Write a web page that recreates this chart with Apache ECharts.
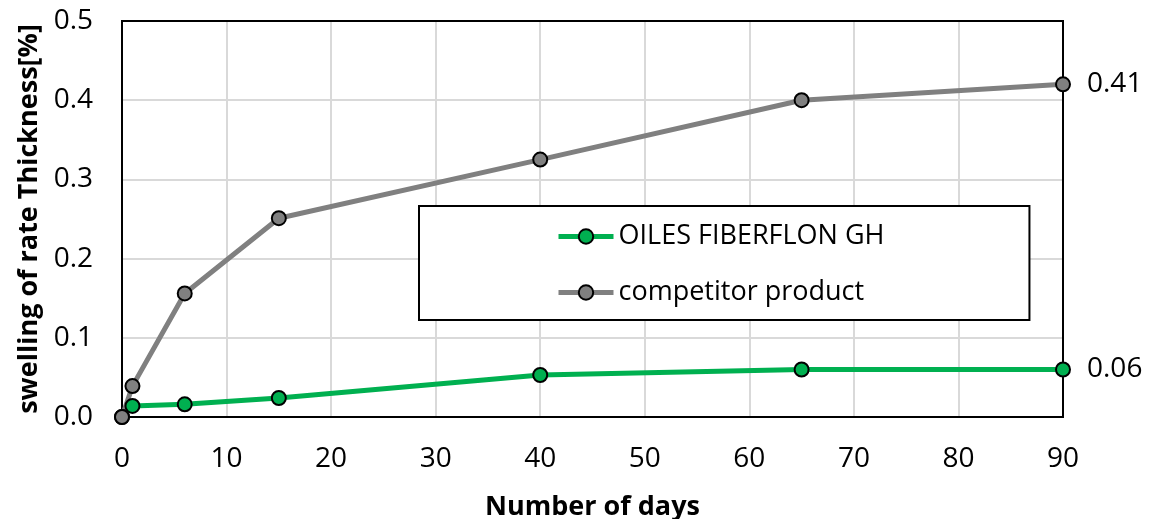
<!DOCTYPE html>
<html><head><meta charset="utf-8">
<script src="https://cdn.jsdelivr.net/npm/echarts@6/dist/echarts.min.js"></script>
<style>html,body{margin:0;padding:0;background:#fff}#c{width:1158px;height:519px}</style>
</head><body><div id="c"></div>
<script>
const days = [0, 1, 6, 15, 40, 65, 90];
const oilesValues = [0, 0.014, 0.016, 0.024, 0.053, 0.060, 0.060];
const competitorValues = [0, 0.039, 0.156, 0.251, 0.325, 0.400, 0.420];
const seriesNames = ['OILES FIBERFLON GH', 'competitor product'];
const endLabels = ['0.06', '0.41'];
const xTicks = {min: 0, max: 90, interval: 10};
const yTicks = {min: 0, max: 0.5, interval: 0.1};

const FONT = 'Open Sans';
const chart = echarts.init(document.getElementById('c'));
function mkSeries(name, vals, color, endLabel) {
  return {
    name: name, type: 'line',
    data: days.map((d, i) => [d, vals[i]]),
    symbol: 'circle', symbolSize: 14,
    itemStyle: {color: color, borderColor: '#000', borderWidth: 2},
    lineStyle: {color: color, width: 5},
    label: {
      show: true, position: 'right', distance: 16,
      fontFamily: FONT, fontSize: 28, color: '#000',
      formatter: p => p.dataIndex === days.length - 1 ? endLabel : ''
    },
    emphasis: {disabled: true},
    animation: false
  };
}
chart.setOption({
  animation: false,
  textStyle: {fontFamily: FONT},
  grid: {left: 122, right: 95, top: 21, bottom: 102, outerBoundsMode: 'none', containLabel: false},
  xAxis: {
    type: 'value', min: xTicks.min, max: xTicks.max, interval: xTicks.interval,
    name: 'Number of days', nameLocation: 'middle', nameGap: 77,
    nameTextStyle: {fontFamily: FONT, fontSize: 27, fontWeight: 'bold', color: '#000'},
    axisLine: {show: true, lineStyle: {color: '#000', width: 2}},
    axisTick: {show: false},
    axisLabel: {fontFamily: FONT, fontSize: 28, color: '#000', margin: 28},
    splitLine: {show: true, lineStyle: {color: '#d9d9d9', width: 2}}
  },
  yAxis: {
    type: 'value', min: yTicks.min, max: yTicks.max, interval: yTicks.interval,
    name: 'swelling of rate Thickness[%]', nameLocation: 'middle', nameGap: 78, nameRotate: 90,
    nameTextStyle: {fontFamily: FONT, fontSize: 27, fontWeight: 'bold', color: '#000'},
    axisLine: {show: true, lineStyle: {color: '#000', width: 2}},
    axisTick: {show: false},
    axisLabel: {fontFamily: FONT, fontSize: 28, color: '#000', margin: 29, formatter: v => v.toFixed(1)},
    splitLine: {show: true, lineStyle: {color: '#d9d9d9', width: 2}}
  },
  legend: {
    orient: 'vertical', left: 419, top: 206,
    padding: [17, 145, 14, 137],
    itemWidth: 55, itemHeight: 18, itemGap: 29,
    backgroundColor: '#fff', borderColor: '#000', borderWidth: 2,
    lineStyle: {width: 5},
    textStyle: {fontFamily: FONT, fontSize: 27, color: '#000'},
    data: seriesNames
  },
  series: [
    mkSeries(seriesNames[0], oilesValues, '#00b050', endLabels[0]),
    mkSeries(seriesNames[1], competitorValues, '#808080', endLabels[1])
  ]
});
// top and right border lines of the plot area
const g = chart.getModel().getComponent('grid').coordinateSystem.getRect();
chart.setOption({graphic: [{type: 'rect', shape: {x: g.x, y: g.y, width: g.width, height: g.height}, style: {fill: 'none', stroke: '#000', lineWidth: 2}, z: 1, silent: true}]});
</script></body></html>
